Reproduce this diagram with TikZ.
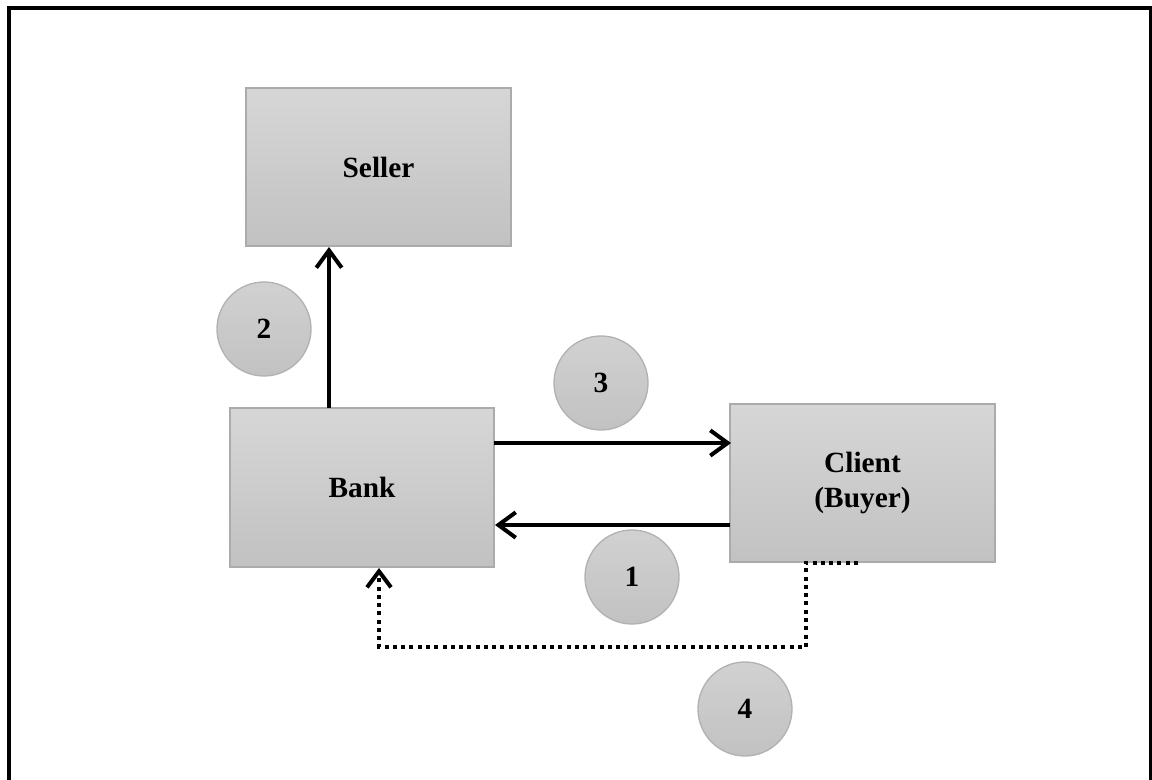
\documentclass[tikz,border=0pt]{standalone}
\usepackage{fontspec}
\setmainfont{Liberation Serif}
\usetikzlibrary{arrows.meta}
\begin{document}
\begin{tikzpicture}[x=0.75pt,y=-0.75pt,
  box/.style={rectangle, draw=black!33, line width=1pt,
    top color=black!16, bottom color=black!24,
    font=\fontsize{22}{26}\selectfont\bfseries, align=center,
    inner sep=0pt},
  badge/.style={circle, draw=black!30, line width=1pt,
    top color=black!18, bottom color=black!24,
    minimum size=70.5pt, inner sep=0pt,
    font=\fontsize{22}{26}\selectfont\bfseries},
  flow/.style={line width=3pt, -{Straight Barb[length=13pt,width=19pt,line width=3pt]}},
  dotflow/.style={line width=3pt, dash pattern=on 3pt off 3.2pt,
    -{Straight Barb[length=12pt,width=18pt,line width=3pt]}}]
\useasboundingbox (0,0) rectangle (1152,780);
% outer frame, running past the lower edge
\draw[line width=3pt] (9,8) rectangle (1150.5,800);

% parties
\node[box, minimum width=198.75pt, minimum height=118.5pt] (seller) at (378.5,167) {Seller};
\node[box, minimum width=198pt, minimum height=119.25pt] (bank) at (362,487.5) {Bank};
\node[box, minimum width=198.75pt, minimum height=118.5pt] (client) at (862.5,483) {Client\\(Buyer)};

% step numbers
\node[badge] (n2) at (264,329) {2};
\node[badge] (n3) at (601,383) {3};
\node[badge] (n1) at (632,577) {1};
\node[badge] (n4) at (745,709) {4};

% connectors
\coordinate (bankTop) at (329,408);
\coordinate (sellerBot) at (329,247);
\draw[flow] (bankTop) -- (sellerBot);

\coordinate (bankR3) at (494,443);
\coordinate (clientL3) at (731,443);
\draw[flow] (bankR3) -- (clientL3);

\coordinate (clientL1) at (730,525);
\coordinate (bankR1) at (495,525);
\draw[flow] (clientL1) -- (bankR1);

\coordinate (clientBot) at (858,562.5);
\coordinate (bankBot) at (379,568);
\draw[dotflow] (clientBot) -- (806,562.5) -- (806,647) -- (379,647) -- (bankBot);
\end{tikzpicture}
\end{document}
